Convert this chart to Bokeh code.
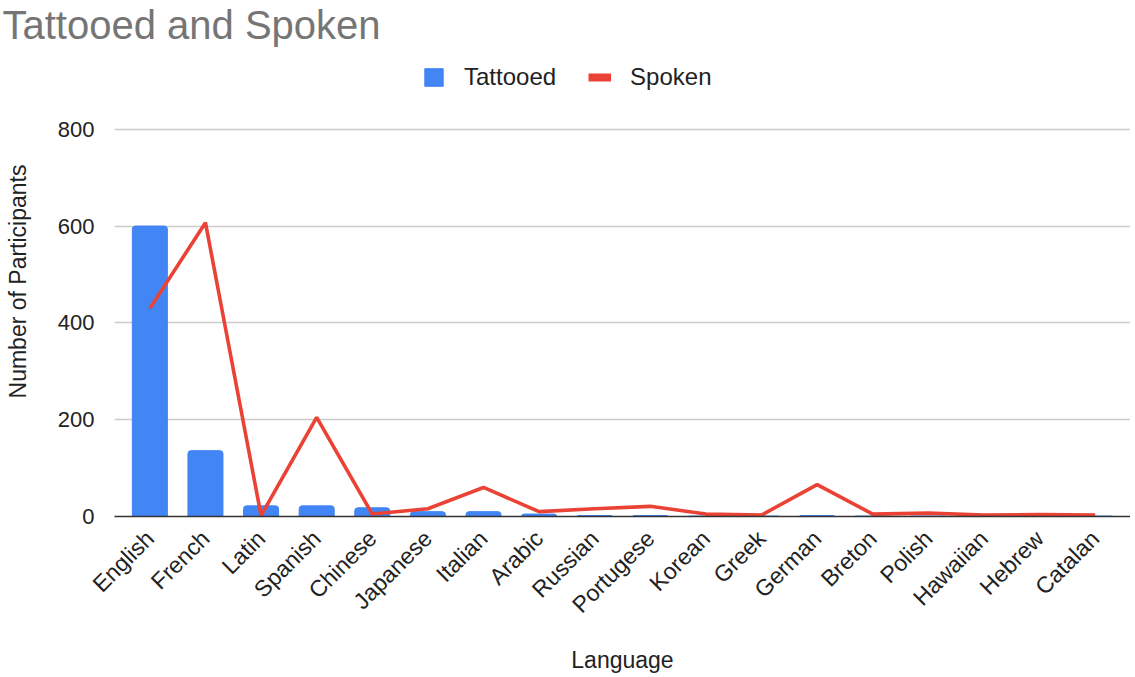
import math
from bokeh.plotting import figure
from bokeh.models import Range1d, FactorRange, Legend, LegendItem, ColumnDataSource, FixedTicker, Title
from bokeh.embed import file_html
from bokeh.resources import INLINE

languages = ["English", "French", "Latin", "Spanish", "Chinese", "Japanese", "Italian", "Arabic",
             "Russian", "Portugese", "Korean", "Greek", "German", "Breton", "Polish", "Hawaiian",
             "Hebrew", "Catalan"]
tattooed = [600, 136, 22, 22, 18, 10, 10, 5, 2, 2, 1, 1, 2, 1, 1, 1, 1, 1]
spoken = [430, 607, 2, 205, 5, 16, 60, 10, 16, 21, 5, 3, 66, 5, 7, 3, 4, 3]
y_ticks = [0, 200, 400, 600, 800]

FONT = "Liberation Sans"

src = ColumnDataSource(dict(lang=languages, tattooed=tattooed, spoken=spoken))
# legend-only proxy source for the thick line swatch (NaN value: draws nothing in the plot)
key_src = ColumnDataSource(dict(lang=languages[:1], spoken=[float("nan")]))

p = figure(x_range=FactorRange(*languages, range_padding=0.0151), y_range=Range1d(0, 971),
           width=1130, height=676, output_backend="svg", toolbar_location=None,
           min_border_left=114, min_border_right=0, min_border_top=0, min_border_bottom=156)

bars = p.vbar(x="lang", top="tattooed", width=0.63, source=src, color="#4285F4",
              border_radius=(3, 3, 0, 0))
line = p.line(x="lang", y="spoken", source=src, color="#EA4335", line_width=3.6)
line_key = p.line(x="lang", y="spoken", source=key_src, color="#EA4335", line_width=8)

p.outline_line_color = None
p.xgrid.grid_line_color = None
p.ygrid.grid_line_color = "#cccccc"
p.ygrid.grid_line_width = 1.5

p.yaxis.ticker = FixedTicker(ticks=y_ticks)
p.yaxis.axis_line_color = None
p.yaxis.major_tick_line_color = None
p.yaxis.minor_tick_line_color = None
p.yaxis.major_label_text_font = FONT
p.yaxis.major_label_text_font_size = "22px"
p.yaxis.major_label_text_color = "#222222"
p.yaxis.major_label_standoff = 14
p.yaxis.axis_label = "Number of Participants"
p.yaxis.axis_label_text_font = FONT
p.yaxis.axis_label_text_font_size = "23px"
p.yaxis.axis_label_text_font_style = "normal"
p.yaxis.axis_label_text_color = "#222222"
p.yaxis.axis_label_standoff = 24

p.xaxis.axis_line_color = "#333333"
p.xaxis.axis_line_width = 1.5
p.xaxis.major_tick_line_color = None
p.xaxis.minor_tick_line_color = None
p.xaxis.major_label_orientation = math.pi / 4
p.xaxis.major_label_text_font = FONT
p.xaxis.major_label_text_font_size = "23px"
p.xaxis.major_label_text_color = "#222222"
p.xaxis.major_label_standoff = 12
p.xaxis.axis_label = "Language"
p.xaxis.axis_label_text_font = FONT
p.xaxis.axis_label_text_font_size = "23px"
p.xaxis.axis_label_text_font_style = "normal"
p.xaxis.axis_label_text_color = "#222222"
p.xaxis.axis_label_standoff = 17

legend = Legend(items=[LegendItem(label="Tattooed", renderers=[bars]),
                       LegendItem(label="Spoken", renderers=[line_key])],
                orientation="horizontal", location=(308, 425), margin=0, padding=8,
                label_text_font=FONT, label_text_font_size="24px", label_text_color="#222222",
                border_line_color=None, background_fill_alpha=0,
                glyph_width=23, glyph_height=22, spacing=32, label_standoff=19)
p.add_layout(legend, "center")

main_title = Title(text="Tattooed and Spoken", text_font=FONT, text_font_size="40px",
                   text_font_style="normal", text_color="#757575", offset=-112, standoff=0,
                   text_line_height=1.0)
p.add_layout(main_title, "above")

open("out.html", "w").write(file_html(p, INLINE))
